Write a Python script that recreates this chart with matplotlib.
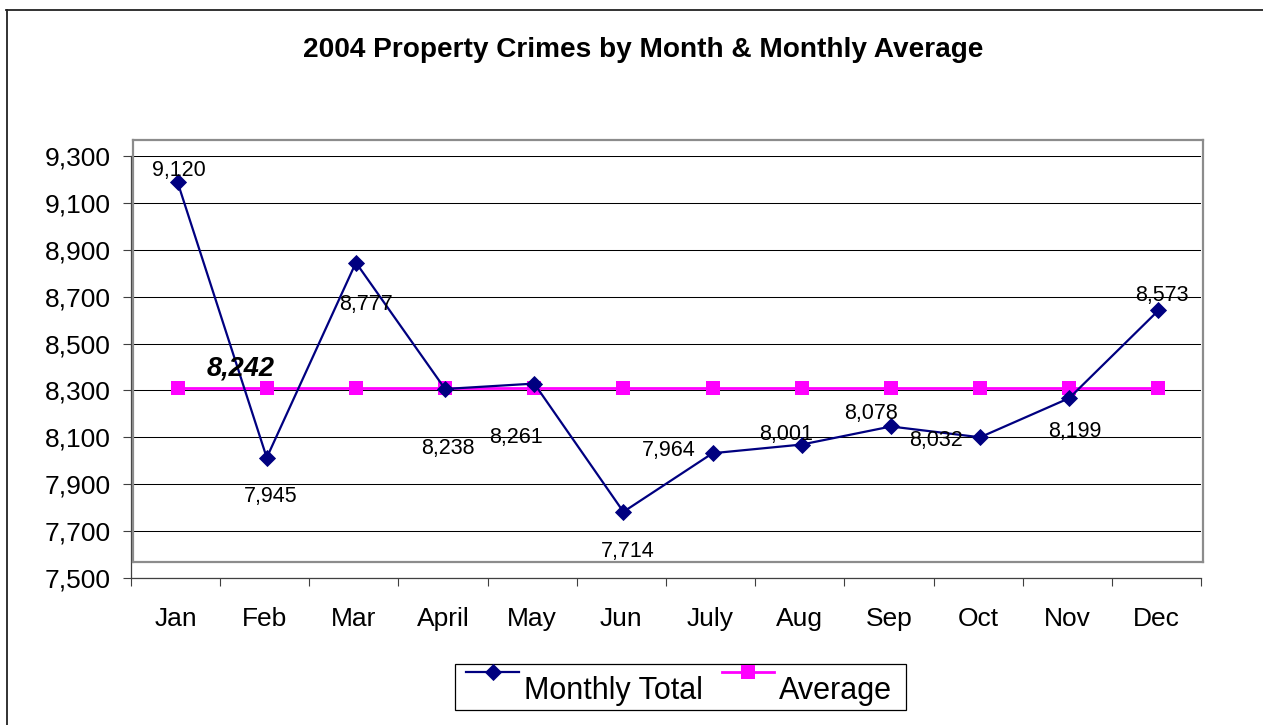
import matplotlib
matplotlib.use("Agg")
import matplotlib.pyplot as plt
from matplotlib.lines import Line2D
from matplotlib.patches import Rectangle

plt.rcParams['font.family'] = ['Liberation Sans', 'DejaVu Sans']

# ---------------- data ----------------
months = ["Jan", "Feb", "Mar", "April", "May", "Jun", "July", "Aug", "Sep", "Oct", "Nov", "Dec"]
monthly_total = [9120, 7945, 8777, 8238, 8261, 7714, 7964, 8001, 8078, 8032, 8199, 8573]
average = [8242, 8242, 8242, 8242, 8242, 8242, 8242, 8242, 8242, 8242, 8242, 8242]
series_names = ["Monthly Total", "Average"]
title = "2004 Property Crimes by Month & Monthly Average"
y_ticks = [7500, 7700, 7900, 8100, 8300, 8500, 8700, 8900, 9100, 9300]

# ---------------- style / layout ----------------
W, H = 1263, 725
NAVY = "#000080"
MAGENTA = "#FF00FF"
# label offsets in pixels (dx, dy downwards) relative to each point
label_offsets_px = [(1.5, -12), (4, 39), (10, 42), (2.7, 60), (-18, 54), (4, 40),
                    (-43.7, -3), (-15.7, -10), (-20, -13), (-43.7, 3), (5.5, 33), (3, -14.5)]
avg_label_offset_px = (63, -19.5)

fig = plt.figure(figsize=(W / 100, H / 100), dpi=100)
fig.patch.set_facecolor("white")

def fx(px):
    return px / W

def fy(py):
    return 1 - py / H

# main axes: ticks, grid, axis lines
ax = fig.add_axes([fx(131), fy(578), (1201 - 131) / W, (578 - 156) / H])
ax.set_xlim(-0.5, len(months) - 0.5)
ax.set_ylim(y_ticks[0], y_ticks[-1])
ax.set_yticks(y_ticks)
ax.set_yticklabels([f"{v:,}" for v in y_ticks], fontsize=19)
ax.set_xticks([i - 0.5 for i in range(len(months) + 1)])
ax.set_xticklabels([])
ax.set_xticks(range(len(months)), minor=True)
ax.set_xticklabels(months, minor=True, fontsize=19)
ax.tick_params(axis="x", which="major", length=5.8, width=0.8, color="#404040", direction="out")
ax.tick_params(axis="x", which="minor", length=0, pad=21)
ax.tick_params(axis="y", which="major", length=5.8, width=0.8, color="#404040", direction="out", pad=9)
for s in ["top", "right"]:
    ax.spines[s].set_visible(False)
for s in ["left", "bottom"]:
    ax.spines[s].set_color("#404040")
    ax.spines[s].set_linewidth(0.9)
ax.grid(axis="y", color="black", linewidth=0.75)
ax.set_axisbelow(True)

# data axes (plot area shifted like in the original)
ax2 = fig.add_axes([fx(133), fy(562), (1201 - 131) / W, (578 - 156) / H])
ax2.set_xlim(-0.5, len(months) - 0.5)
ax2.set_ylim(y_ticks[0], y_ticks[-1])
ax2.patch.set_alpha(0)
ax2.set_xticks([])
ax2.set_yticks([])
for s in ax2.spines.values():
    s.set_color("#8C8C8C")
    s.set_linewidth(1.6)

x = list(range(len(months)))
ax2.plot(x, average, color=MAGENTA, linewidth=2.0, marker="s", markersize=9.5,
         markeredgewidth=0, markerfacecolor=MAGENTA, zorder=3, clip_on=False)
ax2.plot(x, monthly_total, color=NAVY, linewidth=1.6, marker="D", markersize=8.2,
         markeredgewidth=0.6, markerfacecolor=NAVY, markeredgecolor=NAVY, zorder=4, clip_on=False)

for i, v in enumerate(monthly_total):
    dx, dy = label_offsets_px[i]
    ax2.annotate(f"{v:,}", (x[i], v), xytext=(dx * 0.72, -dy * 0.72), textcoords="offset points",
                 ha="center", va="center", fontsize=15.5, color="black", zorder=5,
                 annotation_clip=False)

dx, dy = avg_label_offset_px
ax2.annotate(f"{average[0]:,}", (x[0], average[0]), xytext=(dx * 0.72, -dy * 0.72),
             textcoords="offset points", ha="center", va="center", fontsize=19.5,
             fontweight="bold", fontstyle="italic", color="black", zorder=5)

# title
fig.text(fx(643), fy(50), title, ha="center", va="center", fontsize=20.2, fontweight="bold")

# outer chart border (left and top visible)
fig.add_artist(Line2D([fx(6.5), fx(6.5)], [fy(9.5), fy(730)], color="#222222", linewidth=1.3))
fig.add_artist(Line2D([fx(6), fx(1270)], [fy(9.5), fy(9.5)], color="#222222", linewidth=1.3))

# manual legend (Excel style, handles raised)
fig.add_artist(Rectangle((fx(455), fy(710)), (906 - 455) / W, (710 - 664) / H,
                         transform=fig.transFigure, facecolor="white", edgecolor="black",
                         linewidth=0.9))
fig.add_artist(Line2D([fx(466), fx(519)], [fy(672), fy(672)], color=NAVY, linewidth=1.6))
fig.add_artist(Line2D([fx(492.5)], [fy(672)], color=NAVY, marker="D", markersize=8.2,
                      markeredgewidth=0.6, markerfacecolor=NAVY, markeredgecolor=NAVY))
fig.text(fx(524), fy(699), series_names[0], ha="left", va="baseline", fontsize=22)
fig.add_artist(Line2D([fx(722), fx(774)], [fy(672), fy(672)], color=MAGENTA, linewidth=2.0))
fig.add_artist(Line2D([fx(748)], [fy(672)], color=MAGENTA, marker="s", markersize=9.5,
                      markeredgewidth=0, markerfacecolor=MAGENTA))
fig.text(fx(779), fy(699), series_names[1], ha="left", va="baseline", fontsize=22)

fig.savefig("out.png", dpi=100, facecolor="white")
